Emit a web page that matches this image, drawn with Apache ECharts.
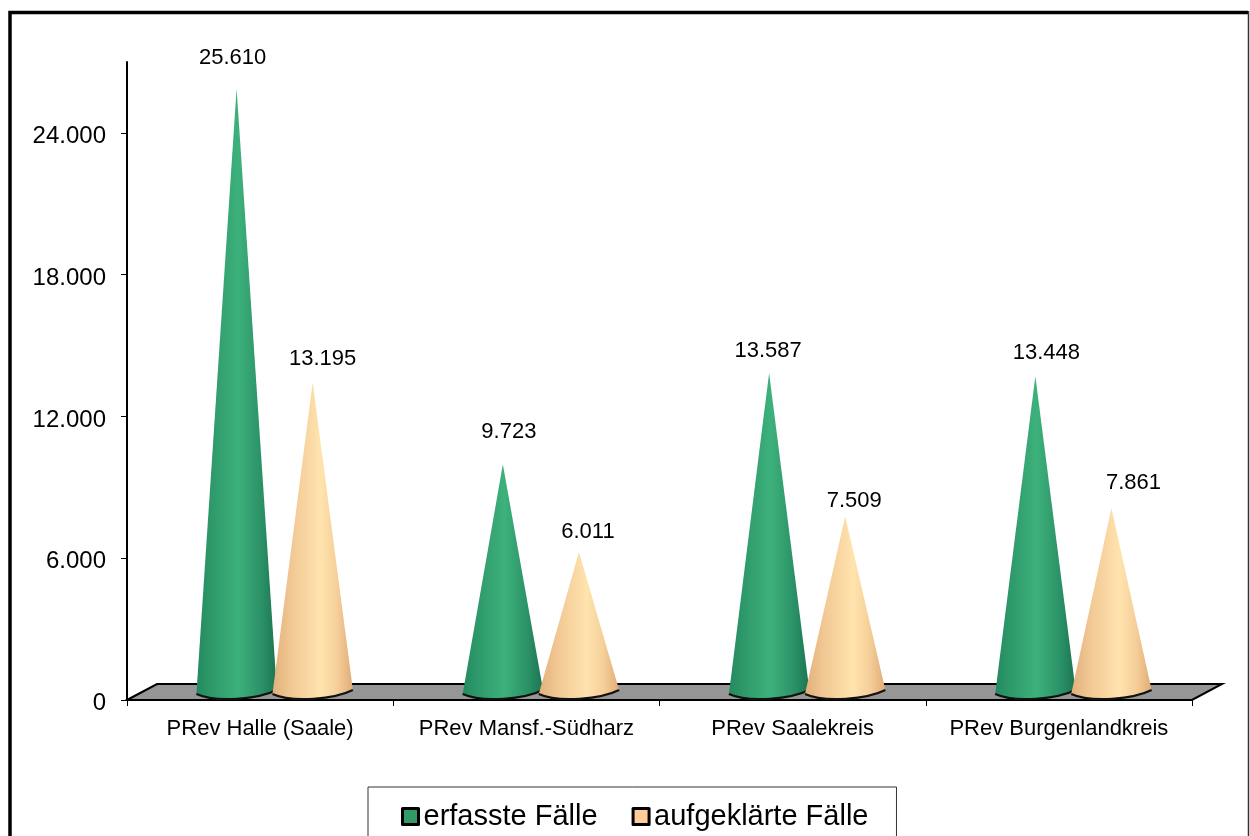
<!DOCTYPE html>
<html>
<head>
<meta charset="utf-8">
<style>html,body{margin:0;padding:0;background:#fff;overflow:hidden}#c{width:1250px;height:836px}</style>
<script src="https://cdn.jsdelivr.net/npm/echarts@6/dist/echarts.min.js"></script>
</head>
<body>
<div id="c"></div>
<script>
const categories = ['PRev Halle (Saale)', 'PRev Mansf.-Südharz', 'PRev Saalekreis', 'PRev Burgenlandkreis'];
const erfassteFaelle = [25610, 9723, 13587, 13448];
const aufgeklaerteFaelle = [13195, 6011, 7509, 7861];
const yTicks = [0, 6000, 12000, 18000, 24000];

// drawing constants (not data)
const FONT = '"Liberation Sans", Arial, sans-serif';
const fmt = v => String(v).replace(/\B(?=(\d{3})+$)/g, '.');
const labelNudgeA = [[-4, -31], [6, -32], [-1, -22], [11, -23]];
const labelNudgeB = [[10, -23], [9, -20], [9, -16], [22, -25]];
const gradA = [[0, '#238a5e'], [0.15, '#2c9669'], [0.52, '#3db17b'], [0.82, '#2a9066'], [1, '#1c7450']];
const gradB = [[0, '#e2b07a'], [0.25, '#f2c995'], [0.6, '#ffe3ad'], [0.8, '#f6cf9a'], [1, '#e0ac76']];

function coneRender(shift, grad, nudge) {
  return function (params, api) {
    const idx = api.value(0);
    const v = api.value(1);
    const band = api.size([1, 0])[0];
    const p = api.coord([idx, v]);
    const zero = api.coord([idx, 0]);
    const cx = p[0] + band * shift;
    const hw = band * 0.151;
    const base = zero[1] - 7;
    const apexY = p[1] - 6;
    const seg = ' C' + (cx + hw * 0.55) + ' ' + (base + 6) + ' ' + (cx - hw * 0.5) + ' ' + (base + 10) + ' ' + (cx - hw) + ' ' + (base + 1);
    const start = (cx + hw) + ' ' + (base - 3);
    const nd = nudge[params.dataIndex];
    return {
      type: 'group',
      children: [
        {
          type: 'path',
          shape: { pathData: 'M' + cx + ' ' + apexY + ' L' + start + seg + ' Z' },
          style: {
            fill: { type: 'linear', x: 0, y: 0, x2: 1, y2: 0, colorStops: grad.map(g => ({ offset: g[0], color: g[1] })) }
          }
        },
        {
          type: 'path',
          shape: { pathData: 'M' + start + seg },
          style: { fill: 'none', stroke: '#111', lineWidth: 2 }
        },
        {
          type: 'text',
          style: {
            text: fmt(v), x: cx + nd[0], y: apexY + nd[1],
            align: 'center', verticalAlign: 'middle',
            font: '22px ' + FONT, fill: '#000'
          }
        }
      ]
    };
  };
}

function floorRender(params, api) {
  const g = params.coordSys;
  const x0 = g.x, x1 = g.x + g.width, y0 = g.y + g.height;
  const dx = 30, dy = 16;
  return {
    type: 'polygon',
    shape: { points: [[x0, y0], [x0 + dx, y0 - dy], [x1 + dx, y0 - dy], [x1, y0]] },
    style: { fill: '#969696', stroke: '#000', lineWidth: 2 },
    silent: true
  };
}

const chart = echarts.init(document.getElementById('c'), null, { renderer: 'canvas' });
chart.setOption({
  animation: false,
  backgroundColor: '#fff',
  grid: { left: 127, right: 58, top: 62, bottom: 136, containLabel: false },
  xAxis: {
    type: 'category',
    data: categories,
    boundaryGap: true,
    axisLine: { show: true, lineStyle: { color: '#000', width: 2 } },
    axisTick: { show: true, alignWithLabel: false, length: 6, lineStyle: { color: '#000', width: 1 } },
    axisLabel: { color: '#000', fontFamily: FONT, fontSize: 22, margin: 18, interval: 0 }
  },
  yAxis: {
    type: 'value',
    min: 0,
    max: 27000,
    interval: 6000,
    splitLine: { show: false },
    axisLine: { show: true, lineStyle: { color: '#000', width: 2 } },
    axisTick: { show: true, length: 6, lineStyle: { color: '#000', width: 1 }, customValues: yTicks },
    axisLabel: { color: '#000', fontFamily: FONT, fontSize: 24, margin: 21, verticalAlign: 'top', lineHeight: 7, customValues: yTicks, formatter: v => fmt(v) }
  },
  legend: {
    left: 368,
    top: 787,
    orient: 'horizontal',
    data: [{ name: 'erfasste Fälle', icon: 'rect' }, { name: 'aufgeklärte Fälle', icon: 'rect' }],
    backgroundColor: '#fff',
    borderColor: '#333',
    borderWidth: 1,
    padding: [15, 28, 60, 33],
    itemWidth: 16,
    itemHeight: 16,
    itemGap: 34,
    itemStyle: { borderColor: '#000', borderWidth: 3, borderJoin: 'round' },
    textStyle: { color: '#000', fontFamily: FONT, fontSize: 29 },
    selectedMode: false
  },
  graphic: [
    {
      type: 'polyline',
      silent: true,
      z: 100,
      shape: { points: [[10, 860], [10, 12.5], [1248, 12.5]] },
      style: { fill: 'none', stroke: '#000', lineWidth: 3.5 }
    },
    {
      type: 'line',
      silent: true,
      z: 100,
      shape: { x1: 1248.5, y1: 11, x2: 1248.5, y2: 860 },
      style: { stroke: '#333', lineWidth: 1.5 }
    }
  ],
  series: [
    {
      name: 'floor', type: 'custom', coordinateSystem: 'cartesian2d', z: 1, silent: true,
      renderItem: floorRender, data: [[0, 0]], clip: false
    },
    {
      name: 'erfasste Fälle', type: 'custom', coordinateSystem: 'cartesian2d', z: 2, silent: true,
      itemStyle: { color: '#339966' },
      encode: { x: 0, y: 1 },
      renderItem: coneRender(-23.5 / 266, gradA, labelNudgeA),
      data: erfassteFaelle.map((v, i) => [i, v]), clip: false
    },
    {
      name: 'aufgeklärte Fälle', type: 'custom', coordinateSystem: 'cartesian2d', z: 3, silent: true,
      itemStyle: { color: '#FFCC99' },
      encode: { x: 0, y: 1 },
      renderItem: coneRender(52.5 / 266, gradB, labelNudgeB),
      data: aufgeklaerteFaelle.map((v, i) => [i, v]), clip: false
    }
  ]
});
</script>
</body>
</html>
